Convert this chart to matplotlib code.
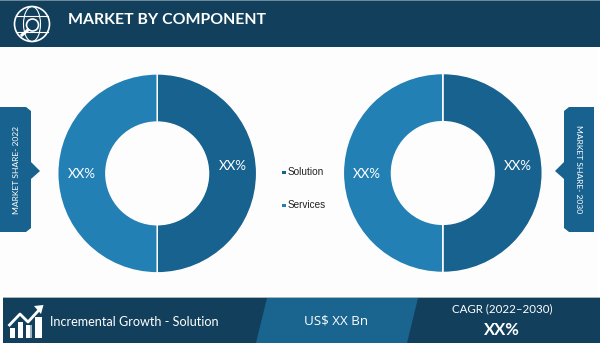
"""
Market by component infographic
"""

import matplotlib

matplotlib.use("Agg")
import matplotlib.pyplot as plt
from matplotlib.patches import Circle, Ellipse, Polygon, Rectangle

plt.rcParams["font.family"] = ["Liberation Sans", "DejaVu Sans"]
NARROW = ["Lato", "DejaVu Sans"]

W, H = 600, 354

NAVY = "#12405c"
MID = "#1a6490"
DARK = "#17628f"
LIGHT = "#2380b5"

COMPONENTS = ["Solution", "Services"]
SHARE_2022 = [50, 50]
SHARE_2030 = [50, 50]
SHARE_LABELS = ["XX%", "XX%"]

TITLE = "MARKET BY COMPONENT"
SIDE_LEFT = "MARKET SHARE- 2022"
SIDE_RIGHT = "MARKET SHARE- 2030"
FOOT_LEFT = "Incremental Growth - Solution"
FOOT_MID = "US$ XX Bn"
CAGR_LABEL = "CAGR (2022\u20132030)"
CAGR_VALUE = "XX%"


def donut(fig, cx, cy, r_out, r_in, values):
    """Draw one donut, centre and radii in pixels of the reference."""
    ax = fig.add_axes([(cx - r_out) / W, 1 - (cy + r_out) / H, 2 * r_out / W, 2 * r_out / H])
    ax.pie(
        values,
        colors=[DARK, LIGHT],
        startangle=90,
        counterclock=False,
        radius=1,
        wedgeprops={"width": 1 - r_in / r_out, "edgecolor": "#fdfdfd", "linewidth": 1.1},
    )
    ax.set_xlim(-1, 1)
    ax.set_ylim(-1, 1)
    ax.axis("off")


def globe_icon(ax, cx, cy, r):
    ax.add_patch(Circle((cx, cy), r, fill=False, ec="white", lw=1.2))
    ax.add_patch(Ellipse((cx, cy), 17, 2 * r, fill=False, ec="white", lw=0.8))
    ax.plot([cx - r + 2, cx + r - 2], [cy - 8, cy - 8], color="white", lw=0.8)
    ax.plot([cx - r + 2, cx + r - 2], [cy + 8, cy + 8], color="white", lw=0.8)
    ax.add_patch(Circle((cx + 0.5, cy + 1), 6, fc=NAVY, ec="white", lw=1.2, zorder=3))
    ax.plot([cx - 4, cx - 10], [cy + 6, cy + 11], color="white", lw=2.2, zorder=3)


def growth_icon(ax):
    for x0, x1, top in [(10, 15, 328), (18, 23, 322), (26, 32, 325), (35, 42, 317)]:
        ax.add_patch(Rectangle((x0, top), x1 - x0, 338 - top, fc="white", ec="none"))
    ax.add_patch(Rectangle((30, 325), 2, 13, fc="#9fb4c2", ec="none"))
    ax.plot([9.5, 20, 28, 39], [325, 314, 322, 310], color="white", lw=2)
    ax.add_patch(Polygon([[34, 306], [43.5, 305], [41, 314]], fc="white", ec="none"))


def main():
    fig = plt.figure(figsize=(W / 100, H / 100), dpi=100, facecolor="white")
    bg = fig.add_axes([0, 0, 1, 1])
    bg.set_xlim(0, W)
    bg.set_ylim(H, 0)
    bg.axis("off")

    # plot area and header
    bg.add_patch(Rectangle((0, 47), 597, 249, fc="#fdfdfd", ec="none"))
    bg.add_patch(Rectangle((0, 0), W, 47, fc=NAVY, ec="none"))
    bg.add_patch(Rectangle((0, 0), W, 1, fc="#6d8a9c", ec="none"))
    globe_icon(bg, 32, 24, 17.5)
    bg.text(68, 20.5, TITLE, color="white", fontsize=11.4, fontweight="bold",
            family=NARROW, ha="left", va="center")

    # side tabs
    bg.add_patch(Polygon(
        [[0, 107], [26, 107], [31, 111], [31, 162], [40, 171], [31, 179],
         [31, 228], [26, 232], [0, 232]], fc=DARK, ec="none"))
    bg.add_patch(Polygon(
        [[594, 107], [569, 107], [564, 111], [564, 162], [555, 171], [564, 179],
         [564, 228], [569, 232], [594, 232]], fc=DARK, ec="none"))
    bg.text(16.5, 169.5, SIDE_LEFT, color="white", fontsize=6.1, family=NARROW,
            rotation=90, ha="center", va="center")
    bg.text(578, 169.5, SIDE_RIGHT, color="white", fontsize=6.1, family=NARROW,
            rotation=270, ha="center", va="center")

    # donuts
    donut(fig, 157.2, 173.4, 99.5, 51.3, SHARE_2022)
    donut(fig, 442.8, 173.0, 99.5, 51.3, SHARE_2030)

    top = fig.add_axes([0, 0, 1, 1])
    top.set_xlim(0, W)
    top.set_ylim(H, 0)
    top.axis("off")
    for x, y, lab in [(232.7, 166, SHARE_LABELS[0]), (81.7, 174.3, SHARE_LABELS[1]),
                      (518.3, 165.7, SHARE_LABELS[0]), (367, 173.7, SHARE_LABELS[1])]:
        top.text(x, y, lab, color="white", fontsize=9.6, family=NARROW, ha="center", va="center")

    # legend
    for y, name, col in zip([172, 205], COMPONENTS, [DARK, LIGHT]):
        top.add_patch(Rectangle((282, y - 1.5), 3.5, 3.5, fc=col, ec="none"))
        top.text(288, y, name, color="#222222", fontsize=7.2, ha="left", va="center")

    # footer
    top.add_patch(Rectangle((3, 297), 597, 1, fc="#a9b4bb", ec="none"))
    top.add_patch(Rectangle((3, 298), 597, 45, fc=NAVY, ec="none"))
    top.add_patch(Polygon([[267, 298], [418, 298], [407, 343], [256, 343]], fc=MID, ec="none"))
    growth_icon(top)
    top.text(50, 321.5, FOOT_LEFT, color="white", fontsize=9.1, family=NARROW, ha="left", va="center")
    top.text(336.5, 321, FOOT_MID, color="white", fontsize=9.6, family=["Open Sans", "DejaVu Sans"],
             ha="center", va="center")
    top.text(502, 309, CAGR_LABEL, color="white", fontsize=8.3, family=NARROW, ha="center", va="center")
    top.text(502, 330, CAGR_VALUE, color="white", fontsize=12, fontweight="bold", family=NARROW,
             ha="center", va="center")

    fig.savefig("out.png", dpi=100)


if __name__ == "__main__":
    main()
